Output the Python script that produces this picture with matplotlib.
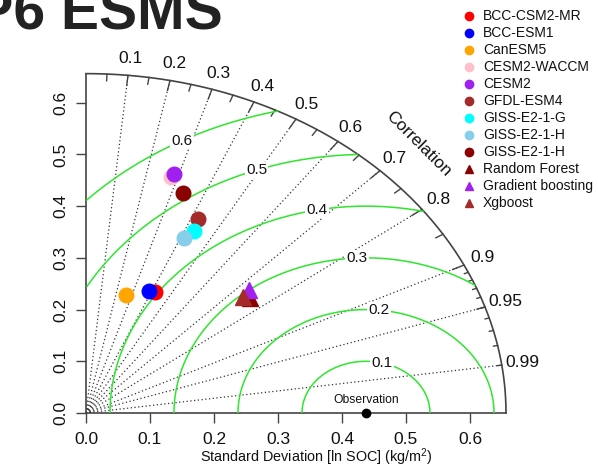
import numpy as np
import matplotlib
matplotlib.use("Agg")
import matplotlib.pyplot as plt
from matplotlib.lines import Line2D

plt.rcParams['font.family'] = ['Liberation Sans', 'DejaVu Sans']
plt.rcParams['mathtext.fontset'] = 'custom'
plt.rcParams['mathtext.rm'] = 'Liberation Sans'

# reference (observed) standard deviation
obs_sd = 0.4375

# models: standard deviation and correlation with the observation
model_names = ['BCC-CSM2-MR', 'BCC-ESM1', 'CanESM5', 'CESM2-WACCM', 'CESM2',
               'GFDL-ESM4', 'GISS-E2-1-G', 'GISS-E2-1-H', 'GISS-E2-1-H']
model_sd = [0.258, 0.256, 0.236, 0.475, 0.482, 0.414, 0.390, 0.371, 0.451]
model_cor = [0.418, 0.384, 0.264, 0.278, 0.285, 0.422, 0.431, 0.414, 0.337]
model_colors = ['red', 'blue', 'orange', 'pink', '#A020F0', '#A52A2A',
                'cyan', 'skyblue', '#8B0000']

# machine learning predictions
ml_names = ['Random Forest', 'Gradient boosting', 'Xgboost']
ml_sd = [0.339, 0.349, 0.333]
ml_cor = [0.755, 0.732, 0.738]
ml_colors = ['#8B0000', '#A020F0', '#A52A2A']

sd_ticks = [0.0, 0.1, 0.2, 0.3, 0.4, 0.5, 0.6]
cor_labels = [0.1, 0.2, 0.3, 0.4, 0.5, 0.6, 0.7, 0.8, 0.9, 0.95, 0.99]
rms_levels = [0.1, 0.2, 0.3, 0.4, 0.5, 0.6]
rms_label_deg = [75.5, 84, 92.7, 101, 110, 118.7]

maxsd = 1.5 * obs_sd
axcol = '#444444'
green = '#2ee62e'

fig = plt.figure(figsize=(5.98, 4.67), dpi=100)
ax = fig.add_axes([86 / 598, 54 / 467, 448 / 598, 362 / 467])
ax.set_xlim(0, 0.7)
ax.set_ylim(0, 0.7)
for sp in ax.spines.values():
    sp.set_visible(False)

# axis lines and the outer correlation arc
ax.plot([0, 0], [0, maxsd], color=axcol, lw=1.2, clip_on=False)
ax.plot([0, maxsd], [0, 0], color=axcol, lw=1.2, clip_on=False)
th = np.linspace(0, np.pi / 2, 300)
ax.plot(maxsd * np.cos(th), maxsd * np.sin(th), color=axcol, lw=1.2, clip_on=False)

# ticks on the arc
for vals, frac in [(np.arange(0.1, 0.91, 0.1), 0.97),
                   (np.arange(0.05, 0.96, 0.1), 0.98),
                   (np.arange(0.91, 0.995, 0.01), 0.99)]:
    a = np.arccos(vals)
    for ang in a:
        ax.plot([maxsd * np.cos(ang), frac * maxsd * np.cos(ang)],
                [maxsd * np.sin(ang), frac * maxsd * np.sin(ang)],
                color=axcol, lw=1.0, clip_on=False)

# dotted correlation rays
for c in cor_labels:
    ang = np.arccos(c)
    ax.plot([0, maxsd * np.cos(ang)], [0, maxsd * np.sin(ang)],
            color='#333333', lw=0.9, ls=(0, (1, 2)), zorder=1)
    ax.text(1.05 * maxsd * np.cos(ang), 1.05 * maxsd * np.sin(ang), f'{c:g}',
            ha='center', va='center', fontsize=12.5, color='#111111')
ax.text(1.12 * maxsd * np.cos(np.pi / 4), 1.12 * maxsd * np.sin(np.pi / 4),
        'Correlation', rotation=-45, ha='center', va='center', fontsize=12.5,
        color='#111111', rotation_mode='anchor')

# centred RMS difference contours
phi = np.linspace(0, np.pi, 400)
for g, deg in zip(rms_levels, rms_label_deg):
    xc = obs_sd + g * np.cos(phi)
    yc = g * np.sin(phi)
    ok = (xc >= 0) & (xc ** 2 + yc ** 2 <= maxsd ** 2)
    ax.plot(np.where(ok, xc, np.nan), np.where(ok, yc, np.nan),
            color=green, lw=1.1, zorder=2)
    a = np.radians(deg)
    ax.text(obs_sd + g * np.cos(a), g * np.sin(a), f'{g:g}', ha='center',
            va='center', fontsize=11, color='#111111', zorder=3,
            bbox=dict(facecolor='white', edgecolor='none', pad=1))

# observation
ax.plot([obs_sd], [0], 'o', color='black', ms=6, clip_on=False, zorder=6)
ax.text(obs_sd, 0.025, 'Observation', ha='center', va='center', fontsize=8.7,
        color='#111111')

# models and ML predictions
for s, c, col in zip(model_sd, model_cor, model_colors):
    ax.plot(s * c, s * np.sqrt(1 - c ** 2), 'o', color=col, ms=10.5, zorder=5)
for s, c, col in zip(ml_sd, ml_cor, ml_colors):
    ax.plot(s * c, s * np.sqrt(1 - c ** 2), '^', color=col, ms=12, zorder=5)

ax.set_xticks(sd_ticks)
ax.set_yticks(sd_ticks)
ax.set_xticklabels([f'{v:.1f}' for v in sd_ticks])
ax.set_yticklabels([f'{v:.1f}' for v in sd_ticks], rotation=90, va='center')
ax.tick_params(direction='out', length=7, width=1, color=axcol,
               labelsize=12.5, labelcolor='#111111', pad=6)
ax.tick_params(axis='x', pad=6.5)

fig.text(316 / 598, 1 - 461.5 / 467, 'Standard Deviation [ln SOC] (kg/m$^2$)',
         ha='center', va='baseline', fontsize=10.4, color='#111111')

# legend
leg_names = model_names + ml_names
leg_colors = model_colors + ml_colors
leg_marks = ['o'] * len(model_names) + ['^'] * len(ml_names)
for i, (name, col, mk) in enumerate(zip(leg_names, leg_colors, leg_marks)):
    y = 1 - (16 + 17 * i) / 467
    fig.add_artist(Line2D([469 / 598], [y], marker=mk, color=col, ms=6,
                          ls='none', transform=fig.transFigure))
    fig.text(483 / 598, y, name, va='center', fontsize=10, color='#111111')

fig.text(-129 / 598, 1 - 30 / 467, 'CMIP6 ESMS', fontsize=41, weight='bold',
         va='baseline', color='#222222')

fig.savefig('out.png', dpi=100)
